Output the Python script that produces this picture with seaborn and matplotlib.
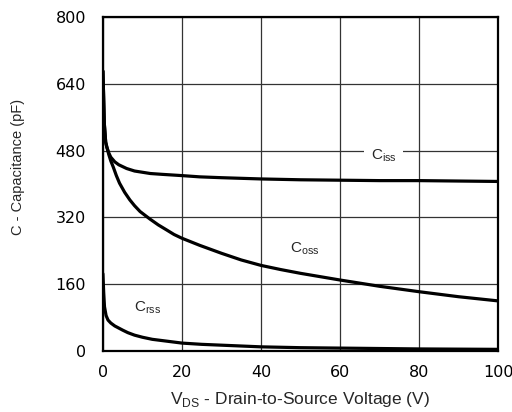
import numpy as np
import pandas as pd
import matplotlib
matplotlib.use("Agg")
import matplotlib.pyplot as plt
import seaborn as sns

# Values
ciss_v = [0, 0.15, 0.35, 0.7, 1, 1.5, 2, 3, 4, 6, 8, 10, 12, 15, 20, 24.5, 30, 40, 50, 60, 70, 80, 90, 100]
ciss = [670, 620, 545, 500, 488, 474, 464, 453, 446, 437, 431, 428, 425, 423, 420, 417, 415, 412, 410, 409, 408, 408, 407, 406]

coss_v = [0, 0.15, 0.35, 0.7, 1, 1.5, 2, 2.6, 3.4, 4.2, 5.5, 6.8, 8, 9.4, 11.9, 14, 16.1, 18, 20, 24.5,
          30, 35, 40, 45, 50, 60, 70, 80, 90, 100]
coss = [670, 620, 545, 500, 488, 470, 455, 441, 420, 402, 380, 362, 348, 334, 316, 302, 290, 279, 270, 253,
        234, 218, 205, 195, 186, 170, 155, 142, 130, 120]

crss_v = [0, 0.2, 0.4, 0.8, 1.3, 2, 3, 4, 5, 6.3, 8, 10, 12.5, 15, 20, 25, 30, 40, 50, 60, 80, 100]
crss = [185, 140, 106, 85, 74, 67, 60, 55, 50, 44, 38, 33, 28, 25, 19, 16, 14, 10, 8, 7, 5, 4]

x_ticks = [0, 20, 40, 60, 80, 100]
y_ticks = [0, 160, 320, 480, 640, 800]

df = pd.concat([
    pd.DataFrame({"V": ciss_v, "C": ciss, "s": "Ciss"}),
    pd.DataFrame({"V": coss_v, "C": coss, "s": "Coss"}),
    pd.DataFrame({"V": crss_v, "C": crss, "s": "Crss"}),
])

sns.set_style("white")
plt.rcParams["font.family"] = ["Liberation Sans", "DejaVu Sans"]
plt.rcParams["mathtext.fontset"] = "custom"
plt.rcParams["mathtext.rm"] = "Liberation Sans"

fig = plt.figure(figsize=(5.12, 4.12), dpi=100)
ax = fig.add_axes([0.201, 0.148, 0.772, 0.811])

sns.lineplot(data=df, x="V", y="C", hue="s", palette=["black"] * 3,
             linewidth=2.3, legend=False, ax=ax, zorder=3, sort=True,
             estimator=None)
for ln in ax.lines:
    ln.set_solid_joinstyle("round")
    ln.set_solid_capstyle("round")

ax.set_xlim(0, 100)
ax.set_ylim(0, 800)
ax.set_xticks(x_ticks)
ax.set_yticks(y_ticks)
ax.grid(True, color="#333333", linewidth=0.9)
ax.set_axisbelow(True)
for sp in ax.spines.values():
    sp.set_visible(True)
    sp.set_color("black")
    sp.set_linewidth(1.6)
ax.tick_params(axis="both", length=0, colors="black")
ax.tick_params(axis="y", pad=12)
ax.tick_params(axis="x", pad=10)
for lab in ax.get_xticklabels() + ax.get_yticklabels():
    lab.set_fontfamily("DejaVu Sans")
    lab.set_fontsize(11.5)

ax.set_xlabel(r"V$_{\mathregular{DS}}$ - Drain-to-Source Voltage (V)",
              fontsize=12.5)
ax.xaxis.set_label_coords(0.499, -0.118)
ax.set_ylabel("C - Capacitance (pF)", fontsize=10.5)
ax.yaxis.set_label_coords(-0.197, 0.551)

ax.text(71, 468, r"C$_{\mathregular{iss}}$", fontsize=11, ha="center", va="center",
        bbox=dict(facecolor="white", edgecolor="none", pad=5), zorder=4)
ax.text(51, 245, r"C$_{\mathregular{oss}}$", fontsize=11, ha="center", va="center", zorder=4)
ax.text(11.4, 103, r"C$_{\mathregular{rss}}$", fontsize=11, ha="center", va="center", zorder=4)

fig.savefig("out.png", dpi=100)
